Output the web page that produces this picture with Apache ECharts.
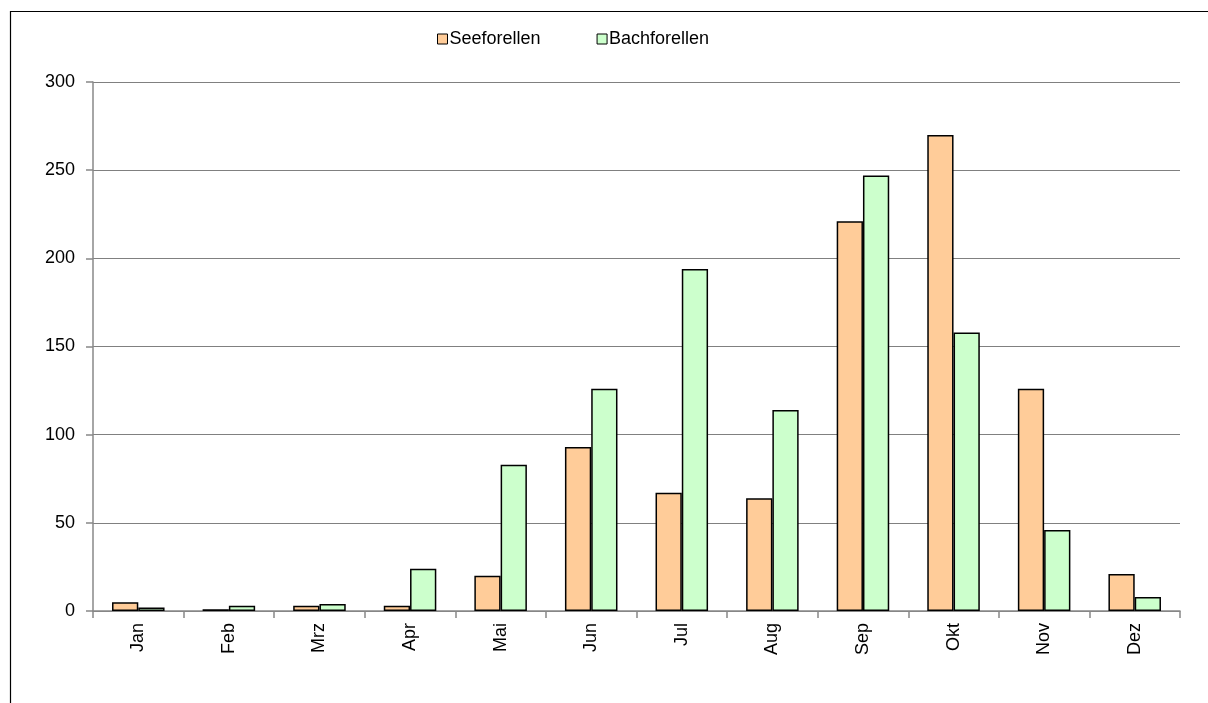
<!DOCTYPE html>
<html>
<head>
<meta charset="utf-8">
<script src="https://cdn.jsdelivr.net/npm/echarts@6/dist/echarts.min.js"></script>
<style>html,body{margin:0;padding:0;background:#fff}#c{width:1208px;height:703px}</style>
</head>
<body>
<div id="c"></div>
<script>
const categories = ['Jan','Feb','Mrz','Apr','Mai','Jun','Jul','Aug','Sep','Okt','Nov','Dez'];
const seeforellen = [5, 1, 3, 3, 20, 93, 67, 64, 221, 270, 126, 21];
const bachforellen = [2, 3, 4, 24, 83, 126, 194, 114, 247, 158, 46, 8];
const yTicks = [0, 50, 100, 150, 200, 250, 300];

const chart = echarts.init(document.getElementById('c'), null, {renderer: 'canvas'});
const font = 'Liberation Sans, Arial, sans-serif';
chart.setOption({
  animation: false,
  backgroundColor: '#fff',
  textStyle: {fontFamily: font},
  graphic: [{
    type: 'rect', z: -1,
    shape: {x: 10.5, y: 11.5, width: 1220, height: 720},
    style: {fill: 'none', stroke: '#000', lineWidth: 1.2}
  }],
  legend: {
    top: 25, left: 432,
    icon: 'rect',
    itemWidth: 10, itemHeight: 10, itemGap: 56,
    textStyle: {fontSize: 18, color: '#000', fontFamily: font, padding: [0,0,0,-3]},
    itemStyle: {borderColor: '#000', borderWidth: 1},
    data: ['Seeforellen', 'Bachforellen']
  },
  grid: {left: 93, right: 28, top: 82, bottom: 92},
  xAxis: {
    type: 'category', data: categories,
    axisLine: {lineStyle: {color: '#888', width: 1.5}},
    axisTick: {show: true, length: 7, lineStyle: {color: '#888', width: 1.5}},
    axisLabel: {rotate: 90, fontSize: 18, color: '#000', margin: 12, fontFamily: font}
  },
  yAxis: {
    type: 'value', min: yTicks[0], max: yTicks[yTicks.length - 1], interval: 50,
    axisLine: {show: true, lineStyle: {color: '#888', width: 1.5}},
    axisTick: {show: true, length: 7, lineStyle: {color: '#888', width: 1.5}},
    splitLine: {lineStyle: {color: '#808080', width: 1.2}},
    axisLabel: {fontSize: 18, color: '#000', margin: 18, fontFamily: font}
  },
  series: [
    {name: 'Seeforellen', type: 'bar', data: seeforellen, barGap: '0%', barCategoryGap: '42%',
     itemStyle: {color: '#FFCC99', borderColor: '#000', borderWidth: 1.5}},
    {name: 'Bachforellen', type: 'bar', data: bachforellen,
     itemStyle: {color: '#CCFFCC', borderColor: '#000', borderWidth: 1.5}}
  ]
});
</script>
</body>
</html>
